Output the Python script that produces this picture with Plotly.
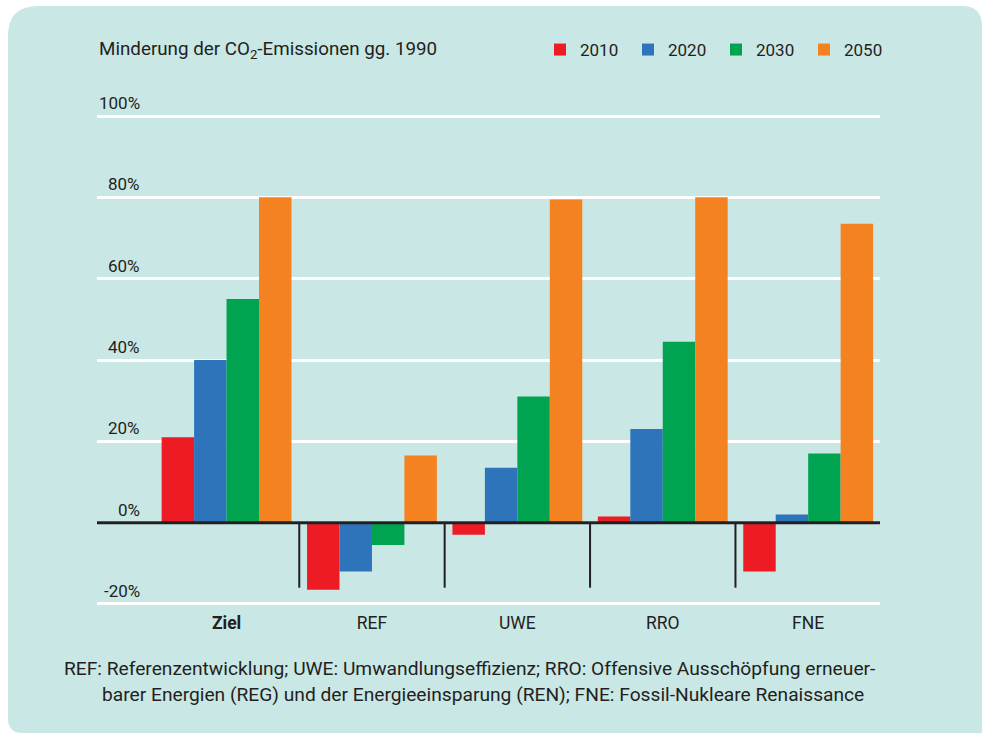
import plotly.graph_objects as go

# Daten
categories = ["Ziel", "REF", "UWE", "RRO", "FNE"]
years = ["2010", "2020", "2030", "2050"]
v2010 = [21, -16.5, -3, 1.5, -12]
v2020 = [40, -12, 13.5, 23, 2]
v2030 = [55, -5.5, 31, 44.5, 17]
v2050 = [80, 16.5, 79.5, 80, 73.5]
y_ticks = [-20, 0, 20, 40, 60, 80, 100]
y_ticklabels = ["-20%", "0%", "20%", "40%", "60%", "80%", "100%"]

colors = ["#ed1c24", "#2e74ba", "#00a450", "#f48220"]
FONT = "Roboto, sans-serif"
TXT = "#231f20"
PANEL = "#c9e7e5"

W, H = 982, 733
ML, MR, MT, MB = 97, 102, 114, 127
PW, PH = W - ML - MR, H - MT - MB


def px(x):
    return (x - ML) / PW


def py(y):
    return (H - MB - y) / PH


fig = go.Figure()
for name, vals, col in zip(years, [v2010, v2020, v2030, v2050], colors):
    fig.add_trace(go.Bar(x=categories, y=vals, name=name, marker_color=col,
                         marker_line_width=0))

# Hintergrundfläche mit abgerundeten Ecken
panel = (
    f"M{px(8)},{py(36)} Q{px(8)},{py(6)} {px(38)},{py(6)} "
    f"L{px(962)},{py(6)} Q{px(982)},{py(6)} {px(982)},{py(26)} "
    f"L{px(982)},{py(733)} L{px(22)},{py(733)} "
    f"Q{px(8)},{py(733)} {px(8)},{py(718)} Z"
)
fig.add_shape(type="path", path=panel, xref="paper", yref="paper",
              fillcolor=PANEL, line_width=0, layer="below")

# Trennlinien zwischen den Gruppen
for i in range(1, len(categories)):
    fig.add_shape(type="line", xref="x", yref="y", x0=i - 0.5, x1=i - 0.5,
                  y0=0, y1=-16, line=dict(color=TXT, width=2))
# Nulllinie
fig.add_shape(type="line", xref="paper", yref="y", x0=0, x1=1, y0=0, y1=0,
              line=dict(color=TXT, width=3))

# y-Beschriftungen über den Gitterlinien
for v, t in zip(y_ticks, y_ticklabels):
    fig.add_annotation(x=px(142), y=v, xref="paper", yref="y", text=t,
                       showarrow=False, xanchor="right", yanchor="bottom",
                       yshift=1, font=dict(size=17, color=TXT, family=FONT))

fig.add_annotation(x=0, y=py(50), xref="paper", yref="paper",
                   text="Minderung der CO<sub>2</sub>-Emissionen gg. 1990",
                   showarrow=False, xanchor="left", yanchor="middle",
                   font=dict(size=18.8, color=TXT, family=FONT))
fig.add_annotation(x=px(62), y=py(668), xref="paper", yref="paper",
                   text="REF: Referenzentwicklung; UWE: Umwandlungseffizienz; RRO: Offensive Ausschöpfung erneuer-",
                   showarrow=False, xanchor="left", yanchor="middle",
                   font=dict(size=19.2, color=TXT, family=FONT))
fig.add_annotation(x=px(100), y=py(694), xref="paper", yref="paper",
                   text="barer Energien (REG) und der Energieeinsparung (REN); FNE: Fossil-Nukleare Renaissance",
                   showarrow=False, xanchor="left", yanchor="middle",
                   font=dict(size=19.2, color=TXT, family=FONT))

fig.update_layout(
    width=W, height=H,
    margin=dict(l=ML, r=MR, t=MT, b=MB, pad=0),
    paper_bgcolor="white",
    plot_bgcolor="rgba(0,0,0,0)",
    barmode="group",
    bargap=0.107,
    bargroupgap=0,
    font=dict(family=FONT, color=TXT, size=17),
    legend=dict(orientation="h", x=px(540), y=py(50), xanchor="left",
                yanchor="middle", bgcolor="rgba(0,0,0,0)",
                entrywidth=43, entrywidthmode="pixels",
                font=dict(size=17, color=TXT, family=FONT)),
    xaxis=dict(range=[-0.891, 4.494], showgrid=False, zeroline=False,
               showline=False, ticks="", ticklabelstandoff=4,
               tickvals=categories,
               ticktext=["<b>Ziel</b>"] + categories[1:],
               tickfont=dict(size=17.5, color=TXT, family=FONT)),
    yaxis=dict(range=[-20.5, 100.5], tickvals=y_ticks, showticklabels=False,
               showgrid=True, gridcolor="white", gridwidth=2.5,
               zeroline=False, showline=False, ticks=""),
)

fig.write_html("out.html", config={"displayModeBar": False},
               post_script="document.body.style.margin='0';")
